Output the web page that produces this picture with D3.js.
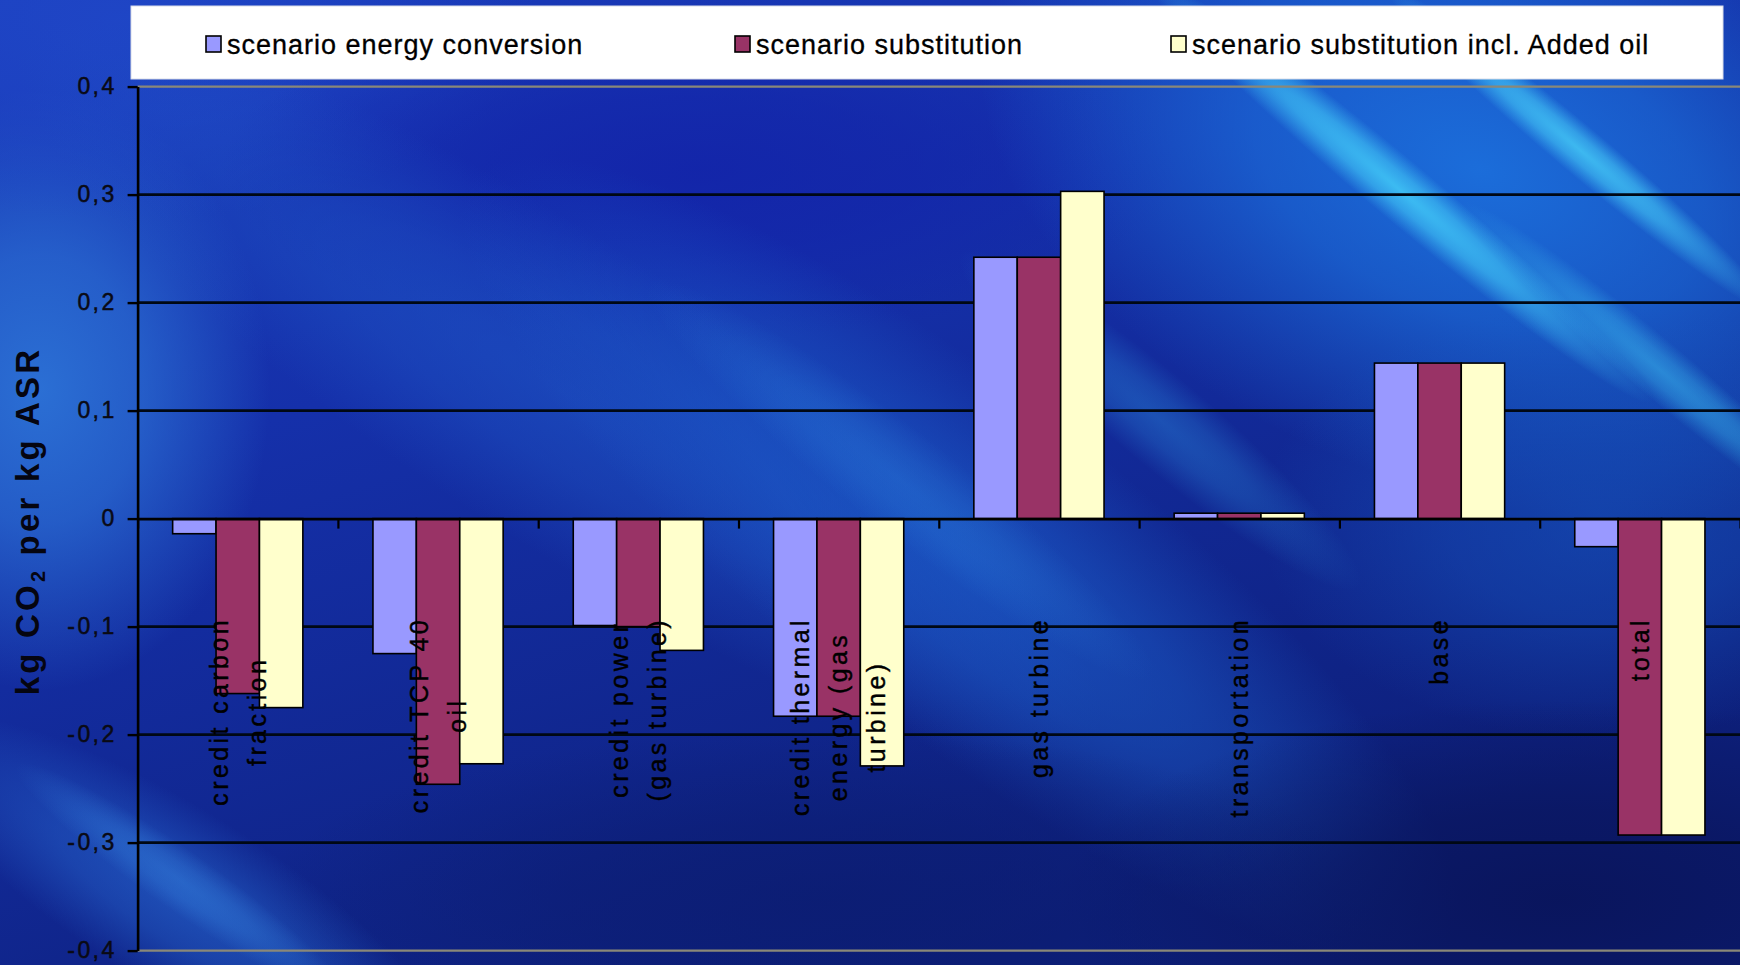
<!DOCTYPE html>
<html>
<head>
<meta charset="utf-8">
<script src="https://cdn.jsdelivr.net/npm/d3@7"></script>
<style>
  html, body { margin: 0; padding: 0; background: #10289a; }
  svg { display: block; }
</style>
</head>
<body>
<svg id="chart" width="1740" height="965"></svg>
<script>
// ---- data ----
const categories = [
  "credit carbon fraction",
  "credit TCP 40 oil",
  "credit power (gas turbine)",
  "credit thermal energy (gas turbine)",
  "gas turbine",
  "transportation",
  "base",
  "total"
];
const categoryLines = [
  ["credit carbon", "fraction"],
  ["credit TCP 40", "oil"],
  ["credit power", "(gas turbine)"],
  ["credit thermal", "energy (gas", "turbine)"],
  ["gas turbine"],
  ["transportation"],
  ["base"],
  ["total"]
];
const seriesNames = [
  "scenario energy conversion",
  "scenario substitution",
  "scenario substitution incl. Added oil"
];
const energyConversion     = [-0.014, -0.125, -0.099, -0.183, 0.242, 0.005, 0.144, -0.026];
const substitution         = [-0.162, -0.246, -0.100, -0.183, 0.242, 0.005, 0.144, -0.293];
const substitutionAddedOil = [-0.175, -0.227, -0.122, -0.229, 0.303, 0.005, 0.144, -0.293];
const seriesColors = ["#9999FF", "#993366", "#FFFFCC"];
const yTicks = [-0.4, -0.3, -0.2, -0.1, 0, 0.1, 0.2, 0.3, 0.4];
const yTickLabels = ["-0,4", "-0,3", "-0,2", "-0,1", "0", "0,1", "0,2", "0,3", "0,4"];
const yTitle = { main: "kg CO", sub: "2", rest: " per kg ASR" };

const seriesValues = [energyConversion, substitution, substitutionAddedOil];

// ---- layout ----
const W = 1740, H = 965;
const plot = { left: 137.6, right: 1740, top: 86.6, bottom: 950.6 };
const svg = d3.select("#chart");
const defs = svg.append("defs");

// ---- background: deep blue with soft diagonal light streaks ----
const bgGrad = defs.append("linearGradient").attr("id", "bgGrad")
  .attr("x1", "0").attr("y1", "0").attr("x2", "0.55").attr("y2", "1");
[["0", "#1a3cbc"], ["0.4", "#1530aa"], ["1", "#0d1f7a"]].forEach(([o, c]) =>
  bgGrad.append("stop").attr("offset", o).attr("stop-color", c));

const bg = svg.append("g").attr("class", "background");
bg.append("rect").attr("width", W).attr("height", H).attr("fill", "url(#bgGrad)");

// each glow is an ellipse whose colour fades out radially
function glowLayer(items, prefix) {
  items.forEach((d, i) => {
    const rg = defs.append("radialGradient").attr("id", `${prefix}${i}`);
    rg.append("stop").attr("offset", "0").attr("stop-color", d.c).attr("stop-opacity", d.o);
    rg.append("stop").attr("offset", "0.45").attr("stop-color", d.c).attr("stop-opacity", d.o * 0.7);
    rg.append("stop").attr("offset", "1").attr("stop-color", d.c).attr("stop-opacity", 0);
  });
  bg.append("g").selectAll("ellipse").data(items).join("ellipse")
    .attr("cx", d => d.cx).attr("cy", d => d.cy)
    .attr("rx", d => d.rx).attr("ry", d => d.ry)
    .attr("transform", d => `rotate(${d.rot},${d.cx},${d.cy})`)
    .attr("fill", (d, i) => `url(#${prefix}${i})`);
}

glowLayer([
  { cx: 40,   cy: 390, rx: 230, ry: 300, rot: 0,  c: "#2c72d6", o: 0.95 },
  { cx: 120,  cy: 20,  rx: 420, ry: 200, rot: 0,  c: "#2048c8", o: 0.8 },
  { cx: 700,  cy: 170, rx: 480, ry: 170, rot: 0,  c: "#1222a8", o: 0.8 },
  { cx: 560,  cy: 390, rx: 640, ry: 150, rot: 33, c: "#1f58c8", o: 0.55 },
  { cx: 960,  cy: 560, rx: 620, ry: 170, rot: 38, c: "#1e66d4", o: 0.6 },
  { cx: 1480, cy: 170, rx: 520, ry: 320, rot: 20, c: "#1c74e0", o: 0.9 },
  { cx: 1600, cy: 520, rx: 340, ry: 220, rot: 0,  c: "#1656c0", o: 0.6 },
  { cx: 1560, cy: 900, rx: 500, ry: 200, rot: 0,  c: "#09145a", o: 0.9 },
  { cx: 820,  cy: 900, rx: 560, ry: 170, rot: 0,  c: "#0b1c70", o: 0.75 },
  { cx: 180,  cy: 900, rx: 320, ry: 90,  rot: 32, c: "#2a70d8", o: 0.55 }
], "glow");

glowLayer([
  { cx: 1400, cy: 190, rx: 330, ry: 30, rot: 40, c: "#42cbf8", o: 0.85 },
  { cx: 1580, cy: 150, rx: 250, ry: 24, rot: 40, c: "#46cef8", o: 0.8 },
  { cx: 1660, cy: 370, rx: 260, ry: 28, rot: 40, c: "#3abaf0", o: 0.55 },
  { cx: 1160, cy: 420, rx: 260, ry: 45, rot: 40, c: "#2f9ae8", o: 0.35 },
  { cx: 900,  cy: 480, rx: 320, ry: 50, rot: 38, c: "#2f8ae6", o: 0.3 },
  { cx: 180,  cy: 880, rx: 200, ry: 30, rot: 35, c: "#3a8ee8", o: 0.4 }
], "streak");

// ---- scales ----
const y = d3.scaleLinear().domain([-0.4, 0.4]).range([plot.bottom, plot.top]);
const x0 = d3.scaleBand().domain(categories)
  .range([plot.left, plot.right]).paddingInner(0.35).paddingOuter(0.175);
const x1 = d3.scaleBand().domain(seriesNames).range([0, x0.bandwidth()]);
const slots = d3.scaleLinear().domain([0, categories.length]).range([plot.left, plot.right]);

const FONT = "'Liberation Sans', Arial, sans-serif";

// ---- gridlines and plot border ----
const grid = svg.append("g").attr("class", "grid");
grid.selectAll("line").data(yTicks.filter(v => v !== 0 && Math.abs(v) < 0.4)).join("line")
  .attr("x1", plot.left).attr("x2", plot.right)
  .attr("y1", d => y(d)).attr("y2", d => y(d))
  .attr("stroke", "#000814").attr("stroke-width", 2.8);
grid.selectAll("line.border").data([0.4, -0.4]).join("line").attr("class", "border")
  .attr("x1", plot.left).attr("x2", plot.right)
  .attr("y1", d => y(d)).attr("y2", d => y(d))
  .attr("stroke", "#8a8878").attr("stroke-width", 2.2);

// ---- bars ----
const rows = categories.map((c, i) => ({
  category: c,
  values: seriesNames.map((s, k) => ({ series: s, k, value: seriesValues[k][i] }))
}));
svg.append("g").attr("class", "bars")
  .selectAll("g").data(rows).join("g")
  .attr("transform", d => `translate(${x0(d.category)},0)`)
  .selectAll("rect").data(d => d.values).join("rect")
  .attr("x", d => x1(d.series))
  .attr("width", x1.bandwidth())
  .attr("y", d => y(Math.max(0, d.value)))
  .attr("height", d => Math.abs(y(d.value) - y(0)))
  .attr("fill", d => seriesColors[d.k])
  .attr("stroke", "#000").attr("stroke-width", 1.6);

// ---- y axis ----
const yAxis = svg.append("g").attr("transform", `translate(${plot.left},0)`)
  .call(d3.axisLeft(y).tickValues(yTicks)
    .tickFormat((d, i) => yTickLabels[i]).tickSize(10).tickSizeOuter(0).tickPadding(11));
yAxis.select(".domain").attr("stroke", "#000").attr("stroke-width", 2.6);
yAxis.selectAll(".tick line").attr("stroke", "#000").attr("stroke-width", 2.4);
yAxis.selectAll(".tick text")
  .attr("fill", "#0a0a14").attr("stroke", "#0a0a14").attr("stroke-width", 0.5)
  .style("font-family", FONT).style("font-size", "23px").style("letter-spacing", "2.4px");

// ---- category axis on the zero line ----
const xAxis = svg.append("g").attr("transform", `translate(0,${y(0)})`)
  .call(d3.axisBottom(slots).tickValues(d3.range(0, categories.length + 1))
    .tickFormat("").tickSize(10).tickSizeOuter(0));
xAxis.select(".domain").attr("stroke", "#000").attr("stroke-width", 2.6);
xAxis.selectAll(".tick line").attr("stroke", "#000").attr("stroke-width", 2.2);

// ---- category labels (rotated, wrapped, reading upwards) ----
const labelTop = 617;
const lineH = 38;
const labels = svg.append("g").attr("class", "cat-labels")
  .selectAll("g").data(categories).join("g");
labels.each(function (c, i) {
  const g = d3.select(this);
  const lines = categoryLines[i];
  const n = lines.length;
  const texts = g.selectAll("text").data(lines).join("text")
    .attr("x", 0)
    .attr("y", (d, j) => (j - (n - 1) / 2) * lineH)
    .attr("dy", "0.35em")
    .attr("text-anchor", "middle")
    .attr("fill", "#000").attr("stroke", "#000").attr("stroke-width", 0.4)
    .style("font-family", FONT).style("font-size", "25px").style("letter-spacing", "3.4px")
    .text(d => d);
  let maxLen = 0;
  texts.each(function () { maxLen = Math.max(maxLen, this.getComputedTextLength()); });
  const cx = x0(c) + x0.bandwidth() / 2;
  g.attr("transform", `translate(${cx},${labelTop + maxLen / 2}) rotate(-90)`);
});

// ---- y axis title ----
const title = svg.append("text")
  .attr("transform", "translate(39,521) rotate(-90)")
  .attr("text-anchor", "middle")
  .attr("fill", "#050510")
  .style("font-family", FONT).style("font-size", "33px").style("font-weight", "bold")
  .style("letter-spacing", "3.2px");
title.append("tspan").text(yTitle.main);
title.append("tspan").attr("dy", 6).style("font-size", "20px").text(yTitle.sub);
title.append("tspan").attr("dy", -6).text(yTitle.rest);

// ---- legend ----
const legend = svg.append("g").attr("class", "legend");
legend.append("rect")
  .attr("x", 131).attr("y", 6).attr("width", 1592).attr("height", 73)
  .attr("fill", "#ffffff").attr("stroke", "#d8dce8").attr("stroke-width", 1);
const legendX = [206, 735, 1171];
const items = legend.selectAll("g.item").data(seriesNames).join("g").attr("class", "item")
  .attr("transform", (d, i) => `translate(${legendX[i]},0)`);
items.append("rect")
  .attr("x", 0).attr("y", 36).attr("width", 15).attr("height", 16)
  .attr("fill", (d, i) => seriesColors[i]).attr("stroke", "#000").attr("stroke-width", 1.6);
items.append("text")
  .attr("x", 21).attr("y", 54)
  .attr("fill", "#000").attr("stroke", "#000").attr("stroke-width", 0.3)
  .style("font-family", FONT).style("font-size", "27px").style("letter-spacing", "1px")
  .text(d => d);
</script>
</body>
</html>
